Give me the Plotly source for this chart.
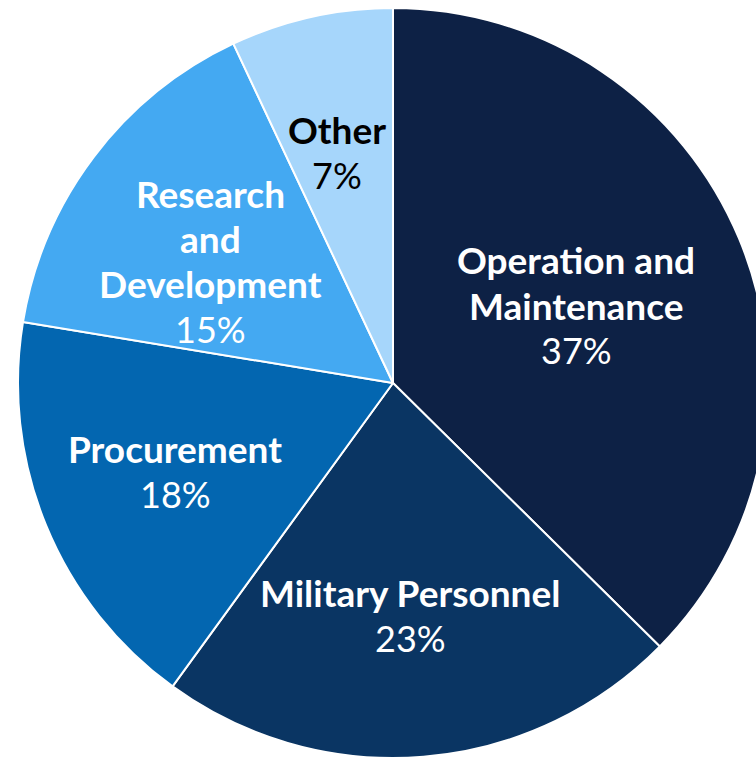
import plotly.graph_objects as go

categories = ["Operation and<br>Maintenance", "Military Personnel", "Procurement",
              "Research<br>and<br>Development", "Other"]
values = [37.4, 22.6, 17.6, 15.4, 7.0]
colors = ["#0d2145", "#0a3563", "#0366b0", "#44a9f2", "#a6d6fb"]
text_colors = ["white", "white", "white", "white", "black"]
# label block centres in pixels (layout only)
label_pos = [(576, 305), (410, 615), (175, 471), (210, 261), (337, 152)]
LINE = 45

W, H = 784, 758
fig = go.Figure(go.Pie(
    labels=categories,
    values=values,
    sort=False,
    direction="clockwise",
    rotation=0,
    marker=dict(colors=colors, line=dict(color="white", width=2)),
    textinfo="none",
    hoverinfo="skip",
    domain=dict(x=[18 / W, 768 / W], y=[0, 750 / H]),
    showlegend=False,
))
total = sum(values)
for cat, v, tc, (px, py) in zip(categories, values, text_colors, label_pos):
    lines = [(f"<b>{s}</b>", 37) for s in cat.split("<br>")]
    lines.append((f"{round(100 * v / total)}%", 36))
    n = len(lines)
    for i, (txt, sz) in enumerate(lines):
        cy = py + (i - (n - 1) / 2) * LINE
        fig.add_annotation(
            x=px / W, y=1 - cy / H, xref="paper", yref="paper",
            text=txt, showarrow=False, xanchor="center", yanchor="middle",
            font=dict(family="Lato", size=sz, color=tc),
        )
fig.update_layout(
    width=W, height=H,
    margin=dict(l=0, r=0, t=0, b=0),
    paper_bgcolor="white",
)
fig.write_html("out.html", config={"displayModeBar": False},
               post_script="document.body.style.margin='0';document.body.style.overflow='hidden';")
